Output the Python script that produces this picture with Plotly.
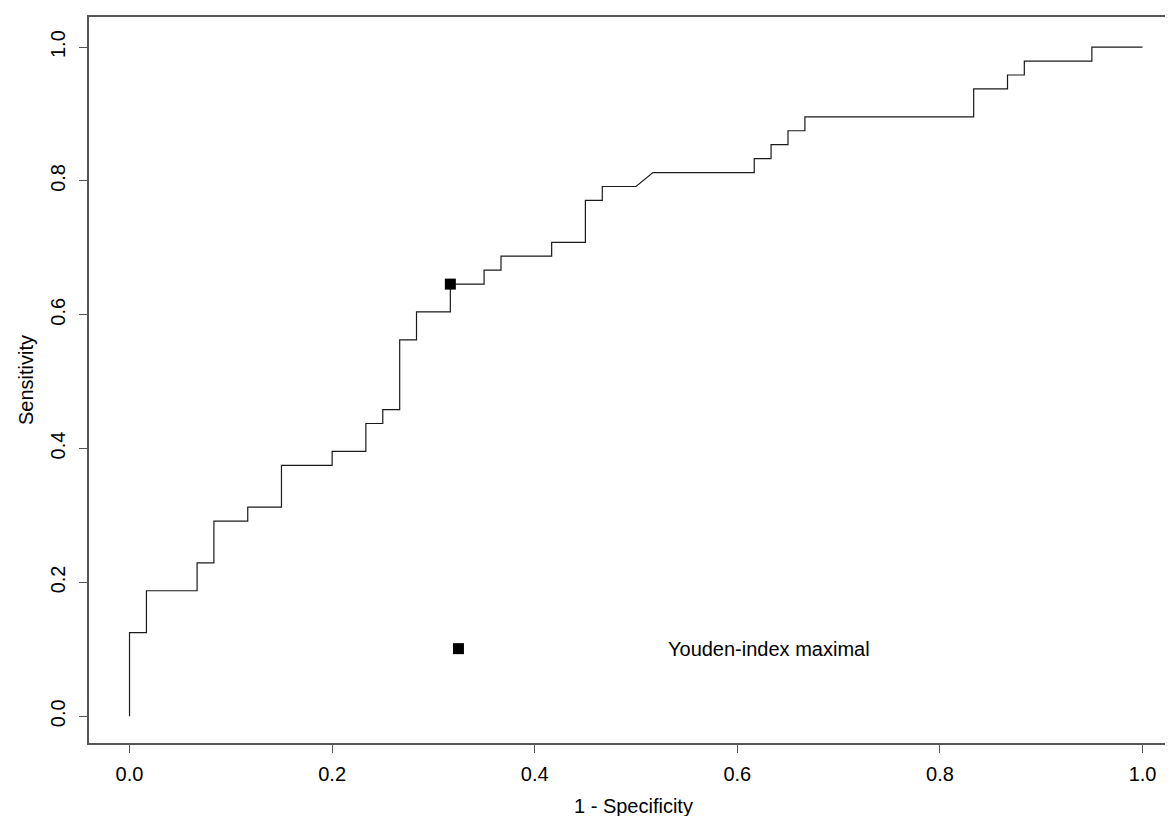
import plotly.graph_objects as go

# ROC curve points (1 - specificity, sensitivity)
fpr = [0.0, 0.0, 0.0167, 0.0167, 0.0667, 0.0667, 0.0833, 0.0833, 0.1167, 0.1167,
       0.15, 0.15, 0.2, 0.2, 0.2333, 0.2333, 0.25, 0.25, 0.2667, 0.2667,
       0.2833, 0.2833, 0.3167, 0.3167, 0.35, 0.35, 0.3667, 0.3667, 0.4167, 0.4167,
       0.45, 0.45, 0.4667, 0.4667, 0.5, 0.5167, 0.6167, 0.6167, 0.6333, 0.6333,
       0.65, 0.65, 0.6667, 0.6667, 0.8333, 0.8333, 0.8667, 0.8667, 0.8833, 0.8833,
       0.95, 0.95, 1.0]
tpr = [0.0, 0.125, 0.125, 0.1875, 0.1875, 0.2292, 0.2292, 0.2917, 0.2917, 0.3125,
       0.3125, 0.375, 0.375, 0.3958, 0.3958, 0.4375, 0.4375, 0.4583, 0.4583, 0.5625,
       0.5625, 0.6042, 0.6042, 0.6458, 0.6458, 0.6667, 0.6667, 0.6875, 0.6875, 0.7083,
       0.7083, 0.7708, 0.7708, 0.7917, 0.7917, 0.8125, 0.8125, 0.8333, 0.8333, 0.8542,
       0.8542, 0.875, 0.875, 0.8958, 0.8958, 0.9375, 0.9375, 0.9583, 0.9583, 0.9792,
       0.9792, 1.0, 1.0]

# Youden-index maximal point
youden_x = [0.3167]
youden_y = [0.6458]

# Legend entry
legend_marker_x = [0.3247]
legend_marker_y = [0.101]
legend_text = "Youden-index maximal"
legend_text_x = 0.53
legend_text_y = 0.101

tick_vals = [0.0, 0.2, 0.4, 0.6, 0.8, 1.0]
tick_text = ["0.0", "0.2", "0.4", "0.6", "0.8", "1.0"]

FONT = "Liberation Sans, Arial, sans-serif"
FS = 20

fig = go.Figure()
fig.add_trace(go.Scatter(x=fpr, y=tpr, mode="lines",
                         line=dict(color="#1a1a1a", width=1.2),
                         hoverinfo="skip", showlegend=False))
fig.add_trace(go.Scatter(x=youden_x, y=youden_y, mode="markers",
                         marker=dict(symbol="square", size=11, color="black",
                                     line=dict(width=0)),
                         showlegend=False))
fig.add_trace(go.Scatter(x=legend_marker_x, y=legend_marker_y, mode="markers",
                         marker=dict(symbol="square", size=11, color="black",
                                     line=dict(width=0)),
                         showlegend=False))

fig.add_annotation(x=legend_text_x, y=legend_text_y, xref="x", yref="y",
                   text=legend_text, showarrow=False, xanchor="left", yanchor="middle",
                   font=dict(family=FONT, size=FS, color="black"))

# Axis titles as annotations
fig.add_annotation(x=0.5, y=0, xref="paper", yref="paper", text="1 - Specificity",
                   showarrow=False, xanchor="center", yanchor="middle", yshift=-63,
                   borderpad=0,
                   font=dict(family=FONT, size=FS, color="black"))
fig.add_annotation(x=0, y=0.5, xref="paper", yref="paper", text="Sensitivity",
                   showarrow=False, xanchor="center", yanchor="middle", xshift=-63,
                   textangle=-90, borderpad=0,
                   font=dict(family=FONT, size=FS, color="black"))

axis_common = dict(
    showgrid=False, zeroline=False,
    showline=True, linecolor="#555555", linewidth=1.5, mirror=True,
    ticks="outside", ticklen=8, tickwidth=1.2, tickcolor="#555555",
    tickvals=tick_vals, ticktext=tick_text,
    tickfont=dict(family=FONT, size=FS, color="black"),
)

fig.update_xaxes(range=[-0.04, 1.035], ticklabelstandoff=4, **axis_common)
fig.update_yaxes(range=[-0.04, 1.045], tickangle=-90, ticklabelstandoff=6, **axis_common)

fig.update_layout(
    width=1173, height=816,
    margin=dict(l=81, r=1, t=9, b=81),
    plot_bgcolor="white", paper_bgcolor="white",
    font=dict(family=FONT, size=FS, color="black"),
)

fig.write_html("out.html")
